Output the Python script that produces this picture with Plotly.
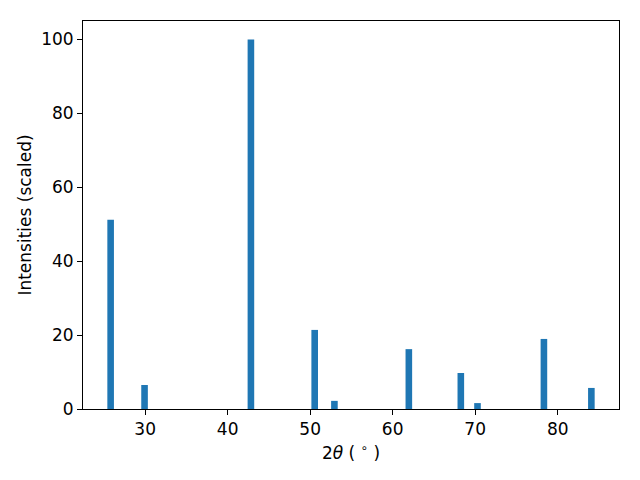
import plotly.graph_objects as go

two_theta = [25.82, 29.93, 42.82, 50.55, 52.94, 61.96, 68.26, 70.28, 78.33, 84.08]
intensity = [51.2, 6.5, 100.0, 21.4, 2.2, 16.2, 9.75, 1.6, 18.96, 5.7]
x_ticks = [30, 40, 50, 60, 70, 80]
y_ticks = [0, 20, 40, 60, 80, 100]

fig = go.Figure(go.Bar(x=two_theta, y=intensity, width=0.8,
                       marker=dict(color="#1f77b4", line=dict(width=0))))

axis_common = dict(showline=True, linecolor="black", linewidth=1, mirror=True,
                   ticks="outside", ticklen=5, tickwidth=1, tickcolor="black",
                   showgrid=False, zeroline=False,
                   tickfont=dict(family="DejaVu Sans", size=17, color="black"))

fig.update_layout(
    width=640, height=480,
    margin=dict(l=75, r=29, t=13, b=79),
    paper_bgcolor="white", plot_bgcolor="white",
    showlegend=False,
    xaxis=dict(range=[22.47, 87.43], tickvals=x_ticks,
               title=dict(text="2<i>θ</i> ( <sup>∘</sup> )", standoff=8,
                          font=dict(family="DejaVu Sans", size=17, color="black")),
               **axis_common),
    yaxis=dict(range=[0, 105], tickvals=y_ticks,
               title=dict(text="Intensities (scaled)", standoff=5,
                          font=dict(family="DejaVu Sans", size=17, color="black")),
               **axis_common),
)

fig.write_html("out.html")
